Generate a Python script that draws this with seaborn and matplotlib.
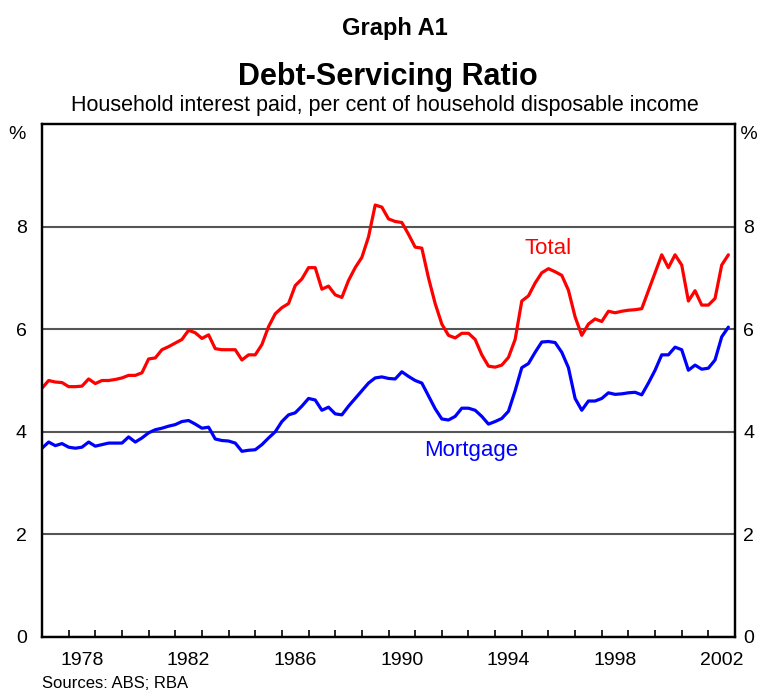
import numpy as np
import pandas as pd
import matplotlib
matplotlib.use("Agg")
import matplotlib.pyplot as plt
import seaborn as sns

# quarterly observations, starting March quarter 1977
start_year = 1977.0
total = [4.85, 5.00, 4.97, 4.96, 4.88, 4.88, 4.89, 5.03, 4.94, 5.00,
         5.00, 5.02, 5.05, 5.10, 5.10, 5.15, 5.42, 5.44, 5.60, 5.66,
         5.73, 5.80, 5.98, 5.93, 5.82, 5.89, 5.62, 5.60, 5.60, 5.60,
         5.40, 5.50, 5.50, 5.70, 6.05, 6.30, 6.42, 6.50, 6.85, 6.98,
         7.20, 7.20, 6.78, 6.84, 6.67, 6.62, 6.95, 7.20, 7.40, 7.80,
         8.42, 8.38, 8.15, 8.10, 8.08, 7.85, 7.60, 7.58, 7.00, 6.50,
         6.10, 5.88, 5.83, 5.92, 5.92, 5.80, 5.50, 5.28, 5.26, 5.30,
         5.45, 5.80, 6.55, 6.65, 6.90, 7.10, 7.18, 7.12, 7.05, 6.76,
         6.24, 5.88, 6.10, 6.20, 6.15, 6.35, 6.32, 6.35, 6.37, 6.38,
         6.40, 6.75, 7.10, 7.45, 7.20, 7.45, 7.25, 6.55, 6.75, 6.47,
         6.47, 6.60, 7.25, 7.45]
mortgage = [3.68, 3.80, 3.73, 3.77, 3.70, 3.68, 3.70, 3.80, 3.72, 3.75,
            3.78, 3.78, 3.78, 3.90, 3.80, 3.88, 3.98, 4.04, 4.07, 4.11,
            4.14, 4.20, 4.22, 4.15, 4.07, 4.09, 3.86, 3.83, 3.82, 3.78,
            3.62, 3.64, 3.65, 3.75, 3.88, 4.00, 4.20, 4.33, 4.37, 4.50,
            4.65, 4.62, 4.42, 4.48, 4.35, 4.33, 4.50, 4.65, 4.80, 4.95,
            5.05, 5.07, 5.04, 5.03, 5.17, 5.08, 5.00, 4.95, 4.70, 4.45,
            4.25, 4.23, 4.30, 4.46, 4.46, 4.42, 4.30, 4.15, 4.20, 4.26,
            4.40, 4.80, 5.25, 5.33, 5.55, 5.75, 5.76, 5.74, 5.55, 5.25,
            4.65, 4.42, 4.60, 4.60, 4.65, 4.76, 4.73, 4.74, 4.76, 4.77,
            4.72, 4.95, 5.20, 5.50, 5.50, 5.65, 5.60, 5.20, 5.30, 5.22,
            5.24, 5.40, 5.85, 6.04]
year_labels = [1978, 1982, 1986, 1990, 1994, 1998, 2002]
y_ticks = [0, 2, 4, 6, 8]

sns.set_style("white")
plt.rcParams['font.family'] = ['Liberation Sans', 'DejaVu Sans']
plt.rcParams['text.color'] = 'black'
plt.rcParams['xtick.color'] = 'black'
plt.rcParams['ytick.color'] = 'black'

t = start_year + 0.25 * np.arange(len(total))
df = pd.DataFrame({'date': t, 'Total': total, 'Mortgage': mortgage})

fig = plt.figure(figsize=(7.58, 6.92), dpi=100)
ax = fig.add_axes([0.0554, 0.0795, 0.9143, 0.7413])

sns.lineplot(data=df, x='date', y='Total', color='#ff0000', linewidth=2.3, ax=ax)
sns.lineplot(data=df, x='date', y='Mortgage', color='#0000ff', linewidth=2.3, ax=ax)

ax.set_xlim(1977.0, 2003.0)
ax.set_ylim(0, 10)
ax.set_xlabel('')
ax.set_ylabel('')

# year labels sit in the middle of each year, ticks at year boundaries
ax.set_xticks([y + 0.5 for y in year_labels])
ax.set_xticklabels([str(y) for y in year_labels], fontsize=14)
ax.set_xticks(range(1978, 2003), minor=True)
ax.tick_params(axis='x', which='major', length=0, pad=11)
ax.tick_params(axis='x', which='minor', direction='in', length=5, width=1.2,
               color='black', bottom=True)

ax.set_yticks(y_ticks)
ax.set_yticklabels([str(v) for v in y_ticks], fontsize=14)
ax.tick_params(axis='y', length=0, pad=11)
ax.yaxis.grid(True, color='#555555', linewidth=1.5)
ax.set_axisbelow(True)

ax2 = ax.twinx()
ax2.set_ylim(0, 10)
ax2.set_yticks(y_ticks)
ax2.set_yticklabels([str(v) for v in y_ticks], fontsize=14)
ax2.tick_params(axis='y', length=0, pad=6)

for a in (ax, ax2):
    for s in a.spines.values():
        s.set_color('black')
        s.set_linewidth(1.6)

ax.text(-0.036, 0.979, '%', transform=ax.transAxes, fontsize=14,
        ha='center', va='center')
ax.text(1.0, 0.979, ' %', transform=ax.transAxes, fontsize=14,
        ha='left', va='center')

ax.text(1996.0, 7.58, 'Total', color='#ff0000', fontsize=16,
        ha='center', va='center')
ax.text(1993.1, 3.63, 'Mortgage', color='#0000ff', fontsize=16,
        ha='center', va='center')

fig.text(0.521, 0.959, 'Graph A1', fontsize=17, fontweight='bold',
         ha='center', va='center')
fig.text(0.512, 0.889, 'Debt-Servicing Ratio', fontsize=22, fontweight='bold',
         ha='center', va='center')
fig.text(0.508, 0.847, 'Household interest paid, per cent of household disposable income',
         fontsize=15.5, ha='center', va='center')
fig.text(0.0554, 0.012, 'Sources: ABS; RBA', fontsize=12, ha='left', va='center')

fig.savefig('out.png', dpi=100)
